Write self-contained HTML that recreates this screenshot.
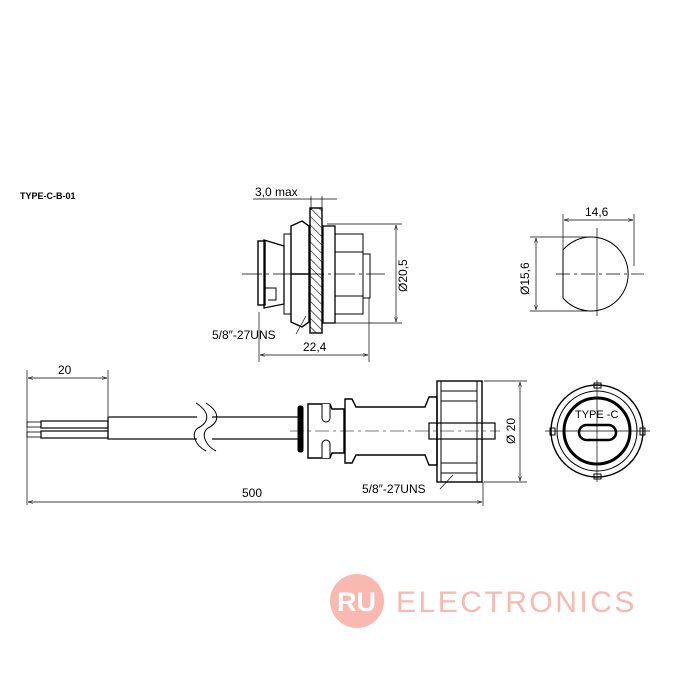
<!DOCTYPE html>
<html><head><style>body{margin:0;background:#fff}svg{display:block}</style></head><body>
<svg width="700" height="700" viewBox="0 0 700 700" xmlns="http://www.w3.org/2000/svg" font-family="Liberation Sans, sans-serif">
<defs>
<marker id="a" viewBox="0 0 10 10" refX="10" refY="5" markerWidth="7" markerHeight="7" orient="auto-start-reverse"><path d="M0,2 L10,5 L0,8" fill="none" stroke="#000" stroke-width="1"/></marker>
<pattern id="h" width="6" height="6" patternUnits="userSpaceOnUse" patternTransform="rotate(-45)"><line x1="0" y1="0" x2="0" y2="6" stroke="#000" stroke-width="1.2"/></pattern>
</defs>
<text x="20" y="199" font-size="9" font-weight="bold">TYPE-C-B-01</text>
<g fill="none" stroke="#000" stroke-width="1">
<line x1="242" y1="274" x2="385" y2="274" stroke-dasharray="20,4,3,4" stroke-width="0.7"/>
<rect x="310" y="208" width="12" height="125" fill="url(#h)" stroke-width="1.4"/>
<path d="M291,226 L302,221 L309,226 L309,322 L302,327 L291,322 Z" stroke-width="1.4"/>
<line x1="291" y1="274" x2="309" y2="274" stroke-width="1.5"/>
<rect x="284" y="234" width="7" height="80"/>
<path d="M264,240 L284,246 L284,304 L264,308 Z" stroke-width="1.3"/>
<rect x="258" y="241" width="7" height="64" stroke-width="1.4"/>
<path d="M264,288 L276,288 L276,300 L268,300"/>
<rect x="323" y="226" width="12" height="97" stroke-width="1.3"/>
<rect x="335" y="234" width="28" height="80"/>
<line x1="335" y1="252" x2="363" y2="252"/><line x1="335" y1="296" x2="363" y2="296"/>
<rect x="363" y="254" width="7" height="44"/>
<line x1="327" y1="224" x2="402" y2="224" stroke-width="0.7"/><line x1="327" y1="323" x2="402" y2="323" stroke-width="0.7"/>
<line x1="396" y1="225" x2="396" y2="322" marker-start="url(#a)" marker-end="url(#a)" stroke-width="0.7"/>
<line x1="259" y1="312" x2="259" y2="362" stroke-width="0.7"/><line x1="369" y1="298" x2="369" y2="362" stroke-width="0.7"/>
<line x1="260" y1="355" x2="368" y2="355" marker-start="url(#a)" marker-end="url(#a)" stroke-width="0.7"/>
<line x1="253" y1="199" x2="337" y2="199" stroke-width="0.7"/>
<line x1="311" y1="196" x2="311" y2="210" stroke-width="0.7"/><line x1="322" y1="196" x2="322" y2="210" stroke-width="0.7"/>
<path d="M296,334 L306,316" stroke-width="0.7"/>
<path d="M563,250 A37,37 0 1 1 563,298 Z" stroke-width="1"/>
<line x1="556" y1="274" x2="644" y2="274" stroke-dasharray="14,4,3,4" stroke-width="0.7"/>
<line x1="597" y1="228" x2="597" y2="316" stroke-width="0.7"/>
<line x1="563" y1="214" x2="563" y2="252" stroke-width="0.7"/><line x1="634" y1="214" x2="634" y2="266" stroke-width="0.7"/>
<line x1="564" y1="220" x2="633" y2="220" marker-start="url(#a)" marker-end="url(#a)" stroke-width="0.7"/>
<line x1="530" y1="237" x2="587" y2="237" stroke-width="0.7"/><line x1="530" y1="311" x2="587" y2="311" stroke-width="0.7"/>
<line x1="536" y1="238" x2="536" y2="310" marker-start="url(#a)" marker-end="url(#a)" stroke-width="0.7"/>
<rect x="108" y="417" width="192" height="22" stroke-width="1.2"/>
<rect x="41" y="421" width="67" height="7" stroke-width="1.2"/>
<rect x="41" y="431" width="67" height="7" stroke-width="1.2"/>
<rect x="27" y="422" width="14" height="5" stroke-width="0.8"/>
<rect x="27" y="432" width="14" height="5" stroke-width="0.8"/>
<rect x="197" y="415" width="15" height="26" fill="#fff" stroke="none"/>
<path d="M196,403 C210,412 210,422 198,428 C190,434 196,446 206,451"/>
<path d="M206,403 C220,412 220,422 208,428 C200,434 206,446 216,451"/>
<rect x="298" y="406" width="5" height="46" fill="#000" rx="2"/>
<path d="M308,404 L330,404 L332,409 L344,409 L344,453 L332,453 L330,458 L308,458 Z" stroke-width="1.4"/>
<path d="M322,404 L322,418 A4,4 0 0 0 330,418 L330,404" fill="#fff"/>
<path d="M322,458 L322,444 A4,4 0 0 1 330,444 L330,458" fill="#fff"/>
<path d="M345,399 L352,399 L356,407 L425,407 L429,397 L437,397 L437,465 L429,465 L425,455 L356,455 L352,463 L345,463 Z" stroke-width="1.4"/>
<rect x="437" y="381" width="45" height="101" stroke-width="1.4"/>
<line x1="441" y1="381" x2="441" y2="482"/><line x1="477" y1="381" x2="477" y2="482"/>
<line x1="441" y1="391" x2="477" y2="391"/><line x1="441" y1="401" x2="477" y2="401"/>
<line x1="441" y1="463" x2="477" y2="463"/><line x1="441" y1="473" x2="477" y2="473"/>
<rect x="429" y="423" width="66" height="16" stroke-width="1.2"/>
<line x1="290" y1="431" x2="500" y2="431" stroke-dasharray="14,4,3,4" stroke-width="0.6"/>
<path d="M440,489 L453,475" stroke-width="0.7"/>
<line x1="27" y1="370" x2="27" y2="505" stroke-width="0.7"/><line x1="108" y1="370" x2="108" y2="416" stroke-width="0.7"/>
<line x1="28" y1="378" x2="107" y2="378" marker-start="url(#a)" marker-end="url(#a)" stroke-width="0.7"/>
<line x1="483" y1="482" x2="483" y2="506" stroke-width="0.7"/>
<line x1="28" y1="502" x2="482" y2="502" marker-start="url(#a)" marker-end="url(#a)" stroke-width="0.7"/>
<line x1="484" y1="381" x2="527" y2="381" stroke-width="0.7"/><line x1="484" y1="482" x2="527" y2="482" stroke-width="0.7"/>
<line x1="520" y1="382" x2="520" y2="481" marker-start="url(#a)" marker-end="url(#a)" stroke-width="0.7"/>
<circle cx="597" cy="431" r="46" stroke-width="1.4"/>
<circle cx="597" cy="431" r="40" stroke-width="1"/>
<circle cx="597" cy="431" r="33" stroke-width="3"/>
<rect x="579" y="425" width="37" height="15" rx="7.5" stroke-width="2.5"/>
<line x1="545" y1="431" x2="650" y2="431" stroke-width="0.7"/>
<line x1="597" y1="380" x2="597" y2="482" stroke-width="0.7"/>
<rect x="594" y="383" width="7" height="5"/><rect x="594" y="474" width="7" height="5"/>
<rect x="550" y="428" width="5" height="7"/><rect x="640" y="428" width="5" height="7"/>
</g>
<g font-size="12" fill="#000">
<text x="255" y="196">3,0 max</text>
<text x="212" y="339">5/8″-27UNS</text>
<text x="303" y="351">22,4</text>
<text x="407" y="292" transform="rotate(-90 407 292)">Ø20,5</text>
<text x="585" y="216">14,6</text>
<text x="529" y="295" transform="rotate(-90 529 295)">Ø15,6</text>
<text x="58" y="374">20</text>
<text x="242" y="497">500</text>
<text x="362" y="493">5/8″-27UNS</text>
<text x="515" y="444" transform="rotate(-90 515 444)">Ø 20</text>
<text x="575" y="418" font-size="11">TYPE -C</text>
</g>
<circle cx="357" cy="601" r="27" fill="#f9b8b0"/>
<text x="337" y="611" font-size="27" fill="#fff" font-weight="bold">RU</text>
<text x="396" y="612" font-size="30" fill="#f9b8b0" letter-spacing="2.5">ELECTRONICS</text>
</svg>
</body></html>
